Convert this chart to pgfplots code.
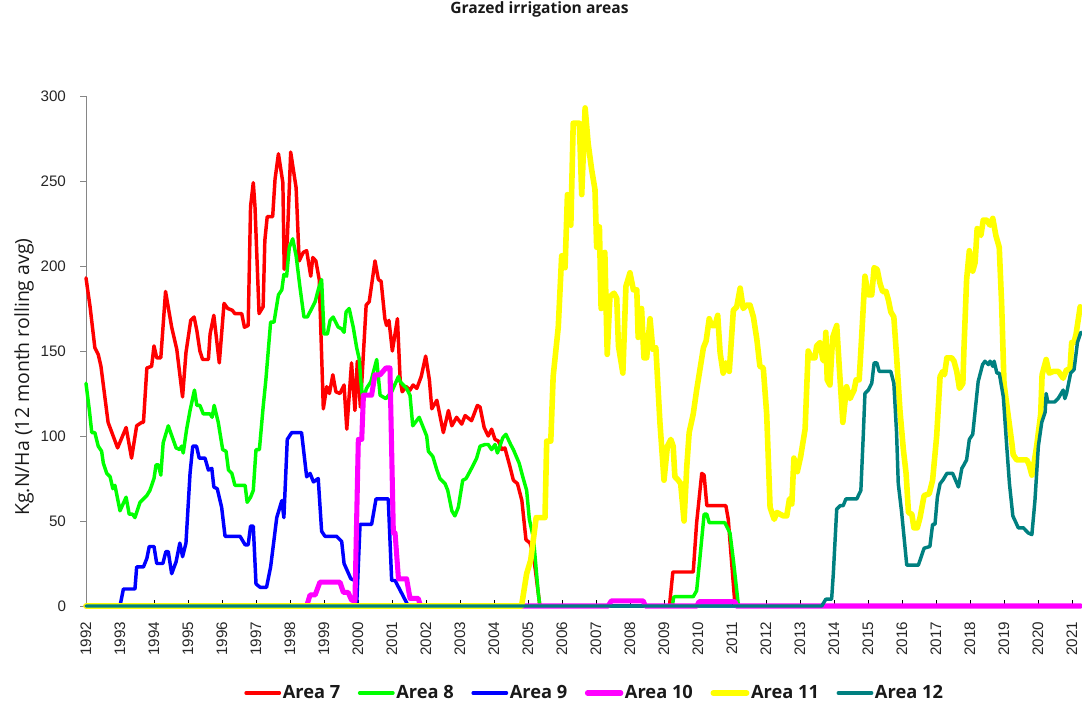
\documentclass[border=0pt]{standalone}
\usepackage{pgfplots}
\pgfplotsset{compat=1.18}
\usepackage{fontspec}
\setmainfont{Open Sans}
\newfontfamily\arialf{Liberation Sans}
\definecolor{cA7}{RGB}{255,0,0}
\definecolor{cA8}{RGB}{0,255,0}
\definecolor{cA9}{RGB}{0,0,255}
\definecolor{cA10}{RGB}{255,0,255}
\definecolor{cA11}{RGB}{255,255,0}
\definecolor{cA12}{RGB}{0,128,128}
\definecolor{axgray}{RGB}{134,134,134}
\begin{document}
\begin{tikzpicture}
\begin{axis}[
  at={(0pt,0pt)}, anchor=south west,
  scale only axis,
  width=747pt, height=382.5pt,
  xmin=1992, xmax=2021.294,
  ymin=0, ymax=300,
  clip=false,
  axis lines*=left,
  axis line style={axgray, line width=0.6pt},
  tick align=inside,
  xtick={1992,1993,...,2021},
  minor x tick num=11,
  ytick={0,50,...,300},
  major tick length=4.2pt,
  minor tick length=3.6pt,
  x tick style={black, line width=0.5pt},
  y tick style={axgray, line width=0.6pt, xshift=-4.2pt},
  /pgf/number format/1000 sep={},
  /pgf/number format/assume math mode=true,
  tick label style={font=\arialf\fontsize{11.4}{13}\selectfont, text=black!85},
  xticklabel style={rotate=90, anchor=east},
  xticklabel shift=8.3pt,
  yticklabel shift=11.5pt,
  ylabel={Kg.N/Ha (12 month rolling avg)},
  ylabel style={at={(axis description cs:-0.0622,0.449)}, anchor=center, font=\fontsize{14.6}{16}\selectfont, text=black!90},
  title={\bfseries Grazed irrigation areas},
  title style={at={(axis description cs:0.4553,1.155)}, anchor=center, font=\fontsize{11.7}{14}\selectfont, text=black!90},
  legend columns=6,
  legend style={draw=none, fill=none, at={(axis description cs:0.5105,-0.1706)}, anchor=center,
    font=\bfseries\fontsize{13.7}{16}\selectfont, text=black!90,
    /tikz/every even column/.append style={column sep=12pt},
    nodes={inner sep=1.2pt}},
  legend image code/.code={\draw[#1] (0pt,0pt) -- (25pt,0pt);},
  every axis plot/.append style={line join=round, line cap=round},
]
\addplot[cA7, line width=2.6pt] coordinates {
(1992.00,193) (1992.12,176) (1992.26,152) (1992.36,148) (1992.44,141) (1992.65,108) (1992.93,93) (1993.18,105) (1993.34,87) (1993.49,106) (1993.64,108) (1993.69,108) (1993.79,140) (1993.93,141) (1994.00,153) (1994.08,146) (1994.20,146) (1994.34,185) (1994.52,164) (1994.67,151) (1994.84,123) (1994.94,149) (1995.08,168) (1995.18,170) (1995.26,162) (1995.35,150) (1995.43,145) (1995.60,145) (1995.65,160) (1995.76,171) (1995.92,143) (1996.06,178) (1996.17,175) (1996.30,174) (1996.38,172) (1996.58,172) (1996.66,164) (1996.77,165) (1996.84,235) (1996.92,249) (1996.97,235) (1997.09,172) (1997.21,176) (1997.26,215) (1997.33,229) (1997.49,229) (1997.56,251) (1997.66,266) (1997.79,249) (1997.83,198) (1997.92,215) (1998.02,267) (1998.18,246) (1998.27,203) (1998.39,208) (1998.49,209) (1998.61,194) (1998.67,205) (1998.76,203) (1998.86,192) (1998.98,116) (1999.08,129) (1999.16,125) (1999.26,136) (1999.35,126) (1999.47,125) (1999.59,130) (1999.67,104) (1999.81,143) (1999.91,115) (1999.98,144) (2000.07,117) (2000.24,177) (2000.33,179) (2000.50,203) (2000.60,192) (2000.68,191) (2000.79,169) (2000.84,165) (2000.91,168) (2001.01,150) (2001.16,169) (2001.24,133) (2001.30,126) (2001.42,129) (2001.53,127) (2001.62,130) (2001.73,128) (2001.86,135) (2001.99,147) (2002.10,133) (2002.17,116) (2002.32,121) (2002.51,102) (2002.66,115) (2002.76,106) (2002.90,111) (2003.05,107) (2003.15,112) (2003.34,109) (2003.51,118) (2003.59,117) (2003.71,105) (2003.83,100) (2003.93,104) (2004.03,98) (2004.13,97) (2004.23,92) (2004.32,93) (2004.47,82) (2004.57,74) (2004.69,72) (2004.82,62) (2004.94,39) (2005.06,37) (2005.16,30) (2005.35,0) (2009.16,0) (2009.26,20) (2009.86,20) (2009.96,49) (2010.11,78) (2010.18,77) (2010.26,59) (2010.82,59) (2010.89,51) (2011.09,0) (2021.26,0)
};
\addlegendentry{Area 7}
\addplot[cA8, line width=2.6pt] coordinates {
(1992.00,131) (1992.10,115) (1992.17,102) (1992.26,102) (1992.36,94) (1992.46,91) (1992.51,84) (1992.61,78) (1992.71,76) (1992.79,69) (1992.85,71) (1993.00,56) (1993.18,64) (1993.27,54) (1993.37,54) (1993.44,52) (1993.59,61) (1993.79,65) (1993.88,68) (1994.00,75) (1994.06,83) (1994.13,83) (1994.20,77) (1994.27,96) (1994.42,106) (1994.49,102) (1994.65,93) (1994.76,92) (1994.81,94) (1994.86,90) (1994.96,104) (1995.06,115) (1995.19,127) (1995.26,118) (1995.35,118) (1995.45,113) (1995.65,113) (1995.71,111) (1995.77,118) (1995.89,108) (1996.02,92) (1996.12,91) (1996.19,80) (1996.29,78) (1996.38,71) (1996.68,71) (1996.74,61) (1996.84,64) (1996.92,68) (1997.00,92) (1997.10,92) (1997.21,117) (1997.29,133) (1997.43,167) (1997.53,167) (1997.66,183) (1997.76,186) (1997.82,195) (1997.90,194) (1997.98,211) (1998.08,216) (1998.18,206) (1998.29,188) (1998.41,170) (1998.51,170) (1998.64,175) (1998.74,179) (1998.83,186) (1998.93,192) (1999.00,160) (1999.10,160) (1999.18,168) (1999.27,170) (1999.42,164) (1999.52,163) (1999.59,161) (1999.65,173) (1999.74,175) (1999.86,164) (1999.96,152) (2000.04,145) (2000.08,133) (2000.14,121) (2000.25,128) (2000.38,132) (2000.55,145) (2000.65,124) (2000.82,122) (2000.99,126) (2001.19,135) (2001.24,132) (2001.43,128) (2001.53,124) (2001.61,106) (2001.80,111) (2001.92,105) (2002.02,100) (2002.07,91) (2002.20,88) (2002.32,80) (2002.41,75) (2002.56,72) (2002.64,68) (2002.76,56) (2002.85,53) (2002.95,58) (2003.08,74) (2003.18,75) (2003.34,81) (2003.49,87) (2003.59,94) (2003.74,95) (2003.83,95) (2003.93,92) (2004.03,95) (2004.10,90) (2004.26,99) (2004.35,101) (2004.49,95) (2004.57,92) (2004.74,84) (2004.86,75) (2004.96,68) (2005.04,51) (2005.16,40) (2005.30,8) (2005.35,0) (2009.25,0) (2009.28,5) (2009.32,5.5) (2009.86,5.5) (2009.96,9) (2010.06,29) (2010.18,54) (2010.26,54) (2010.33,49) (2010.79,49) (2010.94,43) (2011.04,27) (2011.19,0) (2021.26,0)
};
\addlegendentry{Area 8}
\addplot[cA9, line width=2.6pt] coordinates {
(1992.00,0) (1993.00,0) (1993.10,10) (1993.44,10) (1993.49,23) (1993.69,23) (1993.79,28) (1993.86,35) (1994.00,35) (1994.08,25) (1994.26,25) (1994.35,32) (1994.42,32) (1994.52,19) (1994.65,26) (1994.76,37) (1994.84,29) (1994.94,37) (1995.06,78) (1995.14,94) (1995.25,94) (1995.33,87) (1995.50,87) (1995.60,80) (1995.70,81) (1995.76,70) (1995.86,69) (1995.99,58) (1996.09,41) (1996.53,41) (1996.68,36) (1996.77,36) (1996.84,47) (1996.92,47) (1997.00,13) (1997.12,11) (1997.31,11) (1997.43,23) (1997.53,39) (1997.61,52) (1997.76,62) (1997.82,52) (1997.92,98) (1998.05,102) (1998.34,102) (1998.49,76) (1998.59,78) (1998.69,73) (1998.83,75) (1998.93,44) (1999.03,41) (1999.37,41) (1999.52,38) (1999.59,25) (1999.79,16) (1999.91,15) (1999.96,0) (2000.06,48) (2000.40,48) (2000.53,63) (2000.89,63) (2000.99,15) (2001.09,15) (2001.48,0) (2021.26,0)
};
\addlegendentry{Area 9}
\addplot[cA10, line width=3.8pt] coordinates {
(1992.00,0) (1998.49,0) (1998.59,6.5) (1998.74,6.5) (1998.88,14) (1999.47,14) (1999.57,8) (1999.71,8) (1999.81,3.5) (1999.91,3) (2000.01,98) (2000.11,98) (2000.16,124) (2000.40,124) (2000.50,136) (2000.65,136) (2000.82,140) (2000.94,140) (2001.04,43) (2001.09,43) (2001.19,16) (2001.43,16) (2001.53,4.5) (2001.77,4.5) (2001.84,0) (2007.36,0) (2007.45,3) (2008.39,3) (2008.45,0) (2009.97,0) (2010.03,2.5) (2011.09,2.5) (2011.12,0) (2021.26,0)
};
\addlegendentry{Area 10}
\addplot[cA11, line width=4.2pt] coordinates {
(1992.00,0) (2004.81,0) (2004.96,19) (2005.08,27) (2005.24,52) (2005.50,52) (2005.55,97) (2005.67,97) (2005.74,135) (2005.89,164) (2005.99,206) (2006.09,199) (2006.16,242) (2006.26,224) (2006.33,284) (2006.51,284) (2006.58,242) (2006.68,293) (2006.77,272) (2006.87,257) (2006.97,245) (2007.02,211) (2007.10,223) (2007.15,175) (2007.26,208) (2007.33,148) (2007.41,182) (2007.53,184) (2007.61,181) (2007.66,153) (2007.79,137) (2007.88,188) (2008.00,196) (2008.10,186) (2008.20,186) (2008.24,158) (2008.34,175) (2008.41,146) (2008.49,146) (2008.59,169) (2008.67,151) (2008.76,152) (2008.88,108) (2009.00,74) (2009.10,94) (2009.20,98) (2009.27,94) (2009.32,76) (2009.42,74) (2009.49,72) (2009.59,50) (2009.67,82) (2009.74,102) (2009.86,113) (2009.96,127) (2010.16,152) (2010.24,156) (2010.33,169) (2010.40,165) (2010.50,165) (2010.58,171) (2010.65,149) (2010.74,137) (2010.82,143) (2010.92,138) (2011.04,174) (2011.14,176) (2011.24,187) (2011.33,175) (2011.43,177) (2011.53,177) (2011.63,170) (2011.73,157) (2011.82,141) (2011.92,140) (2012.02,113) (2012.12,58) (2012.24,51) (2012.32,55) (2012.51,53) (2012.61,53) (2012.69,63) (2012.76,60) (2012.82,87) (2012.92,79) (2013.02,88) (2013.15,104) (2013.24,150) (2013.34,146) (2013.44,146) (2013.49,153) (2013.59,155) (2013.67,145) (2013.72,144) (2013.76,161) (2013.80,133) (2013.88,130) (2013.96,158) (2014.08,165) (2014.16,139) (2014.26,108) (2014.37,129) (2014.47,122) (2014.59,127) (2014.65,133) (2014.74,133) (2014.81,157) (2014.91,194) (2015.01,183) (2015.11,183) (2015.18,199) (2015.27,198) (2015.35,190) (2015.43,185) (2015.53,185) (2015.60,180) (2015.67,173) (2015.76,170) (2015.84,147) (2015.94,115) (2016.04,92) (2016.12,78) (2016.19,55) (2016.29,54) (2016.35,46) (2016.45,46) (2016.53,52) (2016.65,65) (2016.80,66) (2016.90,74) (2017.02,100) (2017.12,135) (2017.20,138) (2017.25,136) (2017.32,146) (2017.46,146) (2017.53,144) (2017.61,138) (2017.69,128) (2017.79,131) (2017.82,150) (2017.90,192) (2017.98,209) (2018.08,197) (2018.15,202) (2018.21,222) (2018.32,218) (2018.39,227) (2018.49,227) (2018.59,224) (2018.67,228) (2018.76,218) (2018.86,211) (2018.93,178) (2019.00,131) (2019.13,111) (2019.23,96) (2019.27,89) (2019.37,86) (2019.67,86) (2019.74,83) (2019.82,77) (2019.86,81) (2019.96,94) (2020.08,113) (2020.12,136) (2020.24,145) (2020.33,137) (2020.45,138) (2020.60,138) (2020.74,134) (2020.84,139) (2020.94,139) (2020.99,155) (2021.06,155) (2021.12,160) (2021.24,176)
};
\addlegendentry{Area 11}
\addplot[cA12, line width=2.6pt] coordinates {
(1992.00,0) (2013.64,0) (2013.76,4) (2013.93,4) (2013.98,19) (2014.08,57) (2014.18,59) (2014.27,59) (2014.35,63) (2014.67,63) (2014.79,68) (2014.86,100) (2014.91,125) (2015.01,127) (2015.11,131) (2015.18,143) (2015.26,143) (2015.33,138) (2015.67,138) (2015.76,131) (2015.84,102) (2015.89,72) (2015.99,55) (2016.14,24) (2016.48,24) (2016.65,34) (2016.82,35) (2016.90,48) (2016.97,48) (2017.04,64) (2017.12,72) (2017.20,74) (2017.32,78) (2017.49,78) (2017.66,70) (2017.76,81) (2017.82,83) (2017.90,86) (2017.98,98) (2018.08,101) (2018.24,132) (2018.37,142) (2018.44,144) (2018.54,142) (2018.59,144) (2018.67,141) (2018.71,144) (2018.79,137) (2018.86,137) (2018.98,123) (2019.08,94) (2019.16,72) (2019.26,53) (2019.42,46) (2019.57,46) (2019.71,43) (2019.82,42) (2019.91,62) (2020.01,94) (2020.11,108) (2020.21,114) (2020.24,125) (2020.29,120) (2020.49,120) (2020.59,122) (2020.74,127) (2020.79,122) (2020.84,125) (2020.96,137) (2021.06,139) (2021.16,155) (2021.26,161)
};
\addlegendentry{Area 12}
\end{axis}
\pgfresetboundingbox
\path (-64.5pt,-73.5pt) rectangle (747pt,454.5pt);
\end{tikzpicture}
\end{document}
